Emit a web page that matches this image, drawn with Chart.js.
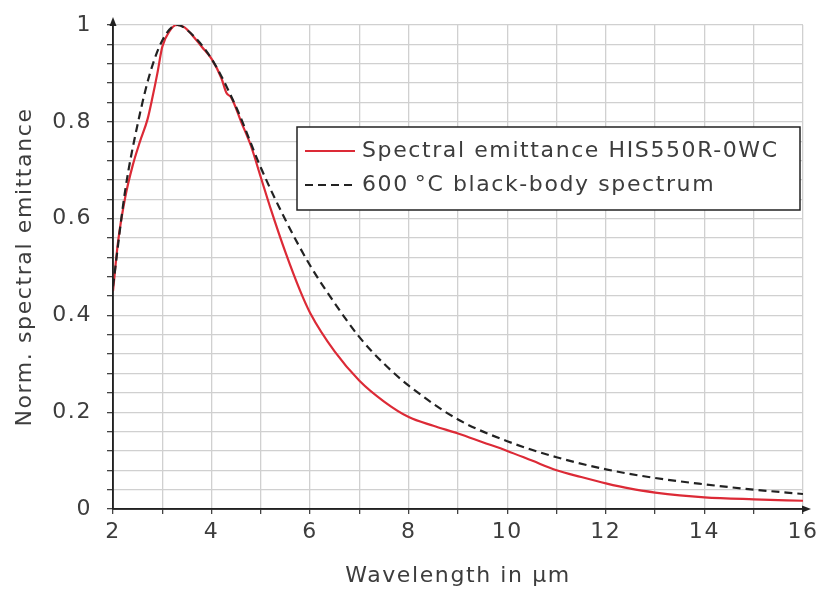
<!DOCTYPE html>
<html>
<head>
<meta charset="utf-8">
<script src="https://cdn.jsdelivr.net/npm/chart.js@4"></script>
<style>
html,body{margin:0;padding:0;background:#fff;}
#wrap{width:819px;height:592px;}
</style>
</head>
<body>
<div id="wrap"><canvas id="c" width="819" height="592"></canvas></div>
<script>
// Wavelength (µm) and normalized values
const emitX = [2, 2.1, 2.25, 2.4, 2.55, 2.7, 2.8, 2.9, 3.0, 3.15, 3.3, 3.45, 3.6, 3.8, 4.0, 4.2, 4.3, 4.4, 4.6, 4.8, 5.0, 5.2, 5.5, 5.8, 6.0, 6.5, 7.0, 7.5, 8.0, 8.5, 9.0, 9.5, 10, 10.5, 11, 11.5, 12, 12.5, 13, 13.5, 14, 15, 16];
const emitY = [0.45, 0.55, 0.645, 0.71, 0.76, 0.805, 0.85, 0.90, 0.955, 0.988, 1.0, 0.995, 0.98, 0.955, 0.93, 0.89, 0.86, 0.85, 0.80, 0.75, 0.685, 0.62, 0.53, 0.45, 0.405, 0.325, 0.265, 0.222, 0.19, 0.172, 0.156, 0.138, 0.12, 0.10, 0.08, 0.066, 0.053, 0.042, 0.034, 0.028, 0.024, 0.02, 0.017];
const bbX = [2, 2.25, 2.5, 2.75, 3, 3.3, 3.5, 4, 4.5, 5, 5.5, 6, 6.5, 7, 7.5, 8, 9, 10, 11, 12, 13, 14, 15, 16];
const bbY = [0.46, 0.66, 0.795, 0.90, 0.968, 1.0, 0.99, 0.93, 0.83, 0.705, 0.597, 0.503, 0.425, 0.355, 0.30, 0.255, 0.185, 0.14, 0.107, 0.082, 0.064, 0.051, 0.04, 0.031];
const seriesLabels = ['Spectral emittance HIS550R-0WC', '600\u2009°C black-body spectrum'];
const xTitle = 'Wavelength in µm';
const yTitle = 'Norm. spectral emittance';
const xTickLabels = [2, 4, 6, 8, 10, 12, 14, 16];
const yTickLabels = ['0', '0.2', '0.4', '0.6', '0.8', '1'];

const FONT = 'DejaVu Sans';
const TXT = '#3d3d3d';
const SPACING = '1.6px';

const toPts = (xs, ys) => xs.map((x, i) => ({x, y: ys[i]}));

const spacingPlugin = {
  id: 'spacing',
  beforeInit(chart) { chart.ctx.letterSpacing = SPACING; },
  beforeLayout(chart) { chart.ctx.letterSpacing = SPACING; },
  beforeDraw(chart) { chart.ctx.letterSpacing = SPACING; }
};

const legendPlugin = {
  id: 'boxLegend',
  afterDatasetsDraw(chart) {
    const ctx = chart.ctx;
    const x0 = 297, y0 = 127, w = 503, h = 83;
    ctx.save();
    ctx.fillStyle = '#fff';
    ctx.fillRect(x0, y0, w, h);
    ctx.strokeStyle = '#222';
    ctx.lineWidth = 1.5;
    ctx.strokeRect(x0, y0, w, h);
    ctx.font = '22px "' + FONT + '"';
    ctx.letterSpacing = SPACING;
    ctx.textBaseline = 'middle';
    ctx.fillStyle = TXT;
    chart.data.datasets.forEach((ds, i) => {
      const cy = y0 + 24 + i * 34;
      ctx.beginPath();
      ctx.strokeStyle = ds.borderColor;
      ctx.lineWidth = 2;
      ctx.setLineDash(ds.borderDash || []);
      ctx.moveTo(x0 + 8, cy);
      ctx.lineTo(x0 + 58, cy);
      ctx.stroke();
      ctx.setLineDash([]);
      ctx.fillText(ds.label, x0 + 65, cy);
    });
    ctx.restore();
  }
};

const arrowPlugin = {
  id: 'arrows',
  afterDraw(chart) {
    const {ctx, chartArea: a} = chart;
    ctx.save();
    ctx.fillStyle = '#222';
    ctx.beginPath();
    ctx.moveTo(a.left, a.top - 8);
    ctx.lineTo(a.left - 3.5, a.top + 1);
    ctx.lineTo(a.left + 3.5, a.top + 1);
    ctx.closePath();
    ctx.fill();
    ctx.beginPath();
    ctx.moveTo(a.right + 8, a.bottom);
    ctx.lineTo(a.right - 1, a.bottom - 3.5);
    ctx.lineTo(a.right - 1, a.bottom + 3.5);
    ctx.closePath();
    ctx.fill();
    ctx.strokeStyle = '#222';
    ctx.lineWidth = 1.5;
    ctx.beginPath();
    ctx.moveTo(a.left, a.top - 2);
    ctx.lineTo(a.left, a.bottom);
    ctx.lineTo(a.right + 2, a.bottom);
    ctx.stroke();
    ctx.restore();
  }
};

new Chart(document.getElementById('c'), {
  type: 'scatter',
  data: {
    datasets: [
      {
        label: seriesLabels[0],
        data: toPts(emitX, emitY),
        showLine: true,
        borderColor: '#dc2a36',
        borderWidth: 2.2,
        pointRadius: 0,
        cubicInterpolationMode: 'monotone',
        order: 2
      },
      {
        label: seriesLabels[1],
        data: toPts(bbX, bbY),
        showLine: true,
        borderColor: '#222',
        borderWidth: 2.2,
        borderDash: [8, 5],
        pointRadius: 0,
        cubicInterpolationMode: 'monotone',
        order: 1
      }
    ]
  },
  options: {
    responsive: false,
    animation: false,
    devicePixelRatio: 1,
    layout: {padding: {left: 0, right: 16, top: 25, bottom: 0}},
    plugins: {legend: {display: false}, tooltip: {enabled: false}},
    scales: {
      x: {
        type: 'linear',
        min: 2, max: 16,
        afterFit(s) { s.height = 83; s.paddingLeft = 0; s.paddingRight = 0; },
        border: {color: '#222', width: 1.5},
        grid: {color: '#d0d0d0', lineWidth: 1.3, tickColor: '#444', tickLength: 5},
        ticks: {
          stepSize: 1,
          autoSkip: false,
          maxRotation: 0,
          padding: 5,
          color: TXT,
          font: {family: FONT, size: 22},
          callback: v => xTickLabels.includes(v) ? String(v) : ''
        },
        title: {display: true, text: xTitle, color: TXT, font: {family: FONT, size: 22}, padding: {top: 0, bottom: 3}}
      },
      y: {
        min: 0, max: 1,
        afterFit(s) { s.width = 113; s.paddingTop = 0; s.paddingBottom = 0; },
        border: {color: '#222', width: 1.5},
        grid: {color: '#d0d0d0', lineWidth: 1.3, tickColor: '#444', tickLength: 6},
        ticks: {
          stepSize: 0.04,
          autoSkip: false,
          padding: 15,
          color: TXT,
          font: {family: FONT, size: 22},
          callback: v => {
            const r = Math.round(v * 100);
            if (r % 20 !== 0) return '';
            return yTickLabels[r / 20];
          }
        },
        title: {display: true, text: yTitle, color: TXT, font: {family: FONT, size: 22}, padding: {top: 12, bottom: 0}}
      }
    }
  },
  plugins: [spacingPlugin, legendPlugin, arrowPlugin]
});
</script>
</body>
</html>
